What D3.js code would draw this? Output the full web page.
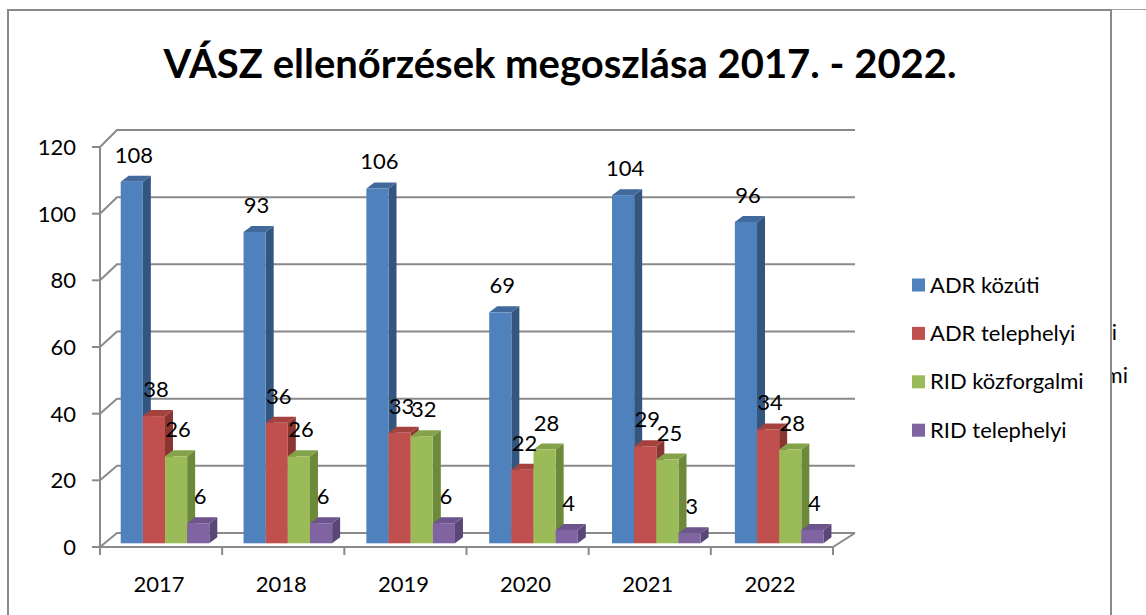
<!DOCTYPE html>
<html>
<head>
<meta charset="utf-8">
<script src="https://cdn.jsdelivr.net/npm/d3@7"></script>
<style>
  body { margin: 0; background: #fff; }
  svg { display: block; font-family: Lato, "Open Sans", sans-serif; }
</style>
</head>
<body>
<script>
'use strict';

// chart data
const years = ['2017', '2018', '2019', '2020', '2021', '2022'];
const seriesNames = ['ADR közúti', 'ADR telephelyi', 'RID közforgalmi', 'RID telephelyi'];
const adrKozuti = [108, 93, 106, 69, 104, 96];
const adrTelephelyi = [38, 36, 33, 22, 29, 34];
const ridKozforgalmi = [26, 26, 32, 28, 25, 28];
const ridTelephelyi = [6, 6, 6, 4, 3, 4];
const yTicks = [0, 20, 40, 60, 80, 100, 120];

const seriesValues = [adrKozuti, adrTelephelyi, ridKozforgalmi, ridTelephelyi];
// front, side, top colours per series
const colors = [
  ['#4f81bd', '#34557f', '#41699c'],
  ['#c0504d', '#8b3533', '#a5423f'],
  ['#9bbb59', '#6d8a3a', '#84a24a'],
  ['#8064a2', '#5a4677', '#6c558d']
];

const W = 1146, H = 615;
const svg = d3.select('body').append('svg')
  .attr('width', W)
  .attr('height', H);

const grey = '#8a8a8a';

// outer frame
svg.append('path')
  .attr('d', 'M8,615 L8,10 L1111,10 L1111,615')
  .attr('fill', 'none')
  .attr('stroke', grey)
  .attr('stroke-width', 2);
svg.append('line')
  .attr('x1', 1112).attr('x2', W)
  .attr('y1', 9.5).attr('y2', 9.5)
  .attr('stroke', '#a0a0a0')
  .attr('stroke-width', 1);

// title
svg.append('text')
  .attr('x', 560)
  .attr('y', 78)
  .attr('text-anchor', 'middle')
  .style('font-size', '40px')
  .style('font-weight', 'bold')
  .attr('fill', '#000')
  .text('VÁSZ ellenőrzések megoszlása 2017. - 2022.');

// scales: front axis, back wall, bars
const yFront = d3.scaleLinear().domain([0, 120]).range([547, 147]);
const yBack = d3.scaleLinear().domain([0, 120]).range([533, 130]);
const yBar = d3.scaleLinear().domain([0, 120]).range([543.3, 141.6]);
const xAxisScale = d3.scaleBand().domain(years).range([100, 833]);
const xBar = d3.scaleBand().domain(years).range([98, 835]);
const xSeries = d3.scaleBand().domain(seriesNames).range([22.7, 111.3]);
const bw = xSeries.bandwidth();
const depthX = 8, depthY = 6;

const backLeft = 117, backRight = 855;

// back wall gridlines + left side diagonals
const grid = svg.append('g')
  .attr('stroke', grey)
  .attr('stroke-width', 2)
  .attr('fill', 'none');
yTicks.forEach(function(t) {
  grid.append('path')
    .attr('d', 'M100,' + yFront(t) + ' L' + backLeft + ',' + yBack(t) + ' L' + backRight + ',' + yBack(t));
});
// floor front edge + right diagonal
grid.append('path')
  .attr('d', 'M100,' + yFront(0) + ' L833,' + yFront(0) + ' L' + backRight + ',' + yBack(0));
// front vertical axis
grid.append('line')
  .attr('x1', 100).attr('x2', 100)
  .attr('y1', yFront(0)).attr('y2', yFront(120));
// y ticks
yTicks.forEach(function(t) {
  grid.append('line')
    .attr('x1', 92).attr('x2', 100)
    .attr('y1', yFront(t)).attr('y2', yFront(t));
});
// x ticks at category boundaries
years.concat(['end']).forEach(function(y, i) {
  let x = 100 + i * xAxisScale.step();
  grid.append('line')
    .attr('x1', x).attr('x2', x)
    .attr('y1', yFront(0)).attr('y2', yFront(0) + 8);
});

// y labels
svg.append('g').selectAll('text')
  .data(yTicks)
  .enter()
  .append('text')
    .attr('x', 76)
    .attr('y', (d) => yFront(d) + 8)
    .attr('text-anchor', 'end')
    .style('font-size', '22px')
    .attr('fill', '#000')
    .text((d) => d);

// x labels
svg.append('g').selectAll('text')
  .data(years)
  .enter()
  .append('text')
    .attr('x', (d) => xAxisScale(d) + xAxisScale.bandwidth() / 2 - 2)
    .attr('y', 592)
    .attr('text-anchor', 'middle')
    .style('font-size', '22px')
    .attr('fill', '#000')
    .text((d) => d);

// bars (3d-ish boxes)
const bars = svg.append('g');
const labels = [];
years.forEach(function(yr, c) {
  seriesNames.forEach(function(name, s) {
    let v = seriesValues[s][c];
    let x0 = xBar(yr) + xSeries(name);
    let yt = yBar(v), yb = yBar(0);
    let col = colors[s];
    // side
    bars.append('polygon')
      .attr('points', [[x0 + bw, yt], [x0 + bw + depthX, yt - depthY], [x0 + bw + depthX, yb - depthY], [x0 + bw, yb]].join(' '))
      .attr('fill', col[1]);
    // top
    bars.append('polygon')
      .attr('points', [[x0, yt], [x0 + depthX, yt - depthY], [x0 + bw + depthX, yt - depthY], [x0 + bw, yt]].join(' '))
      .attr('fill', col[2]);
    // front
    bars.append('rect')
      .attr('x', x0)
      .attr('y', yt)
      .attr('width', bw)
      .attr('height', yb - yt)
      .attr('fill', col[0]);
    labels.push({x: x0 + bw / 2 + 2, y: yt - 19, v: v});
  });
});

// data labels
svg.append('g').selectAll('text')
  .data(labels)
  .enter()
  .append('text')
    .attr('x', (d) => d.x)
    .attr('y', (d) => d.y)
    .attr('text-anchor', 'middle')
    .style('font-size', '22px')
    .attr('fill', '#000')
    .text((d) => d.v);

// legend
const legend = svg.append('g');
seriesNames.forEach(function(name, i) {
  let yc = 285 + i * 48.4;
  legend.append('rect')
    .attr('x', 912)
    .attr('y', yc - 6.5)
    .attr('width', 13)
    .attr('height', 13)
    .attr('fill', colors[i][0]);
  legend.append('text')
    .attr('x', 930)
    .attr('y', yc + 7.5)
    .style('font-size', '22px')
    .attr('fill', '#000')
    .text(name);
});

// clipped leftovers of a hidden legend right of the frame
svg.append('clipPath')
  .attr('id', 'rightClip')
  .append('rect')
    .attr('x', 1112).attr('y', 0)
    .attr('width', 40).attr('height', H);
const ghost = svg.append('g').attr('clip-path', 'url(#rightClip)');
ghost.append('text')
  .attr('x', 1117)
  .attr('y', 340)
  .attr('text-anchor', 'end')
  .style('font-size', '22px')
  .text('elyi');
ghost.append('text')
  .attr('x', 1128)
  .attr('y', 383)
  .attr('text-anchor', 'end')
  .style('font-size', '22px')
  .text('almi');
</script>
</body>
</html>
